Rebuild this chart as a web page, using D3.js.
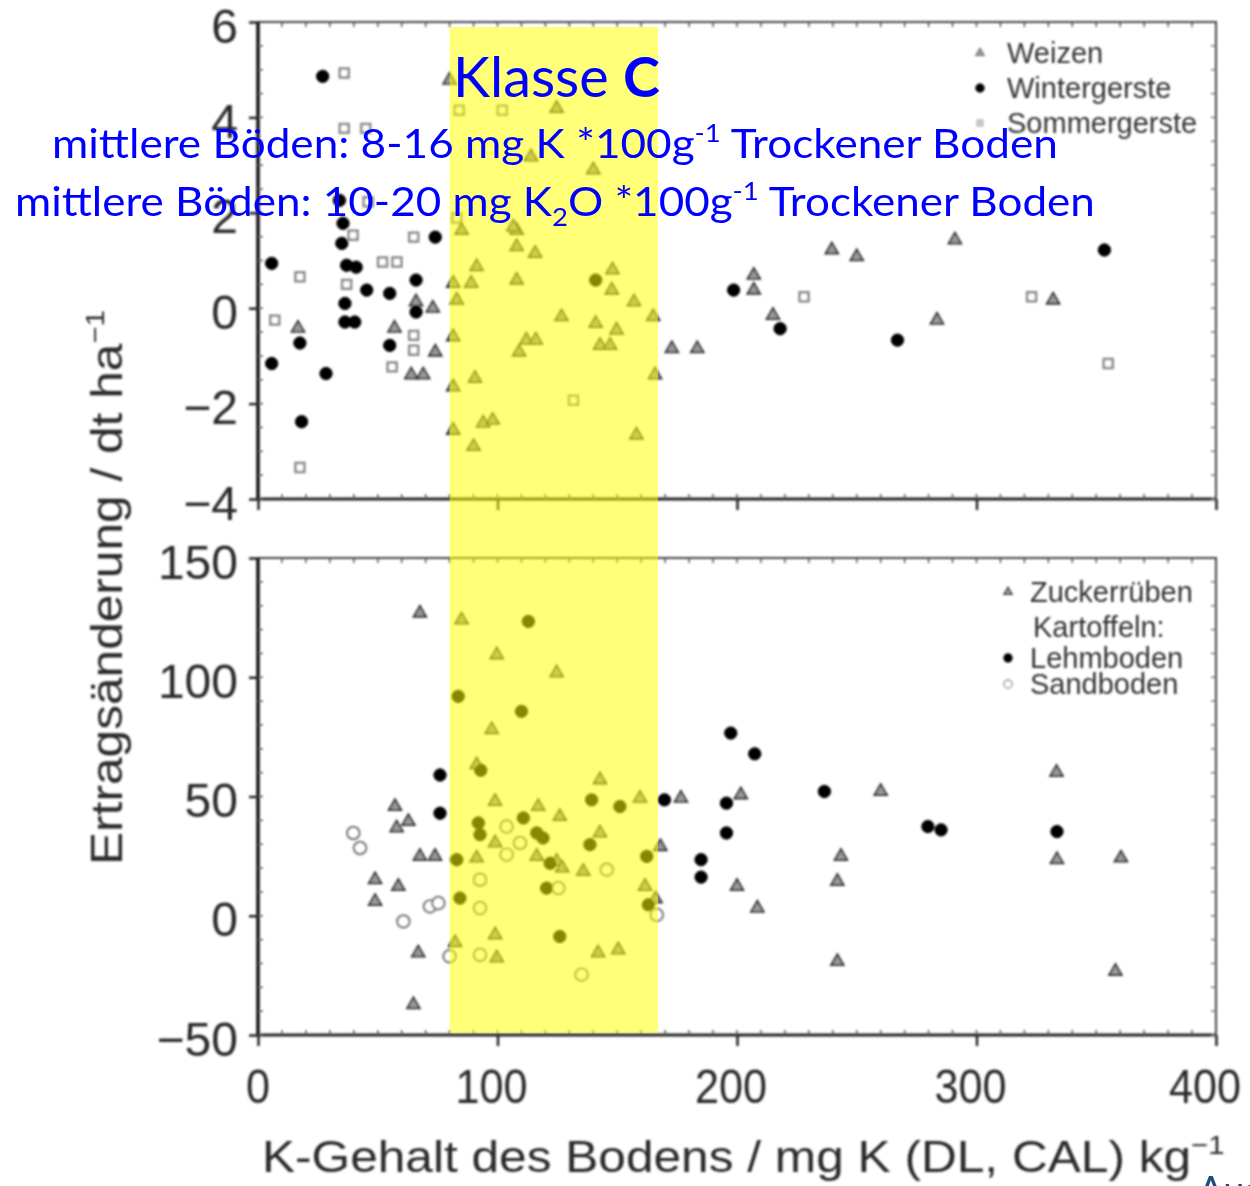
<!DOCTYPE html>
<html>
<head>
<meta charset="utf-8">
<script src="https://cdn.jsdelivr.net/npm/d3@7"></script>
<style>
  html, body { margin: 0; padding: 0; background: #fff; overflow: hidden; }
  svg { display: block; }
</style>
</head>
<body>
<svg id="chart" width="1250" height="1186"></svg>
<script>
// ---- data ----
const xTicks = [0, 100, 200, 300, 400];
const topTicks = [-4, -2, 0, 2, 4, 6];
const botTicks = [-50, 0, 50, 100, 150];
const bandRange = [80, 167];

const topLegend = ["Weizen", "Wintergerste", "Sommergerste"];
const botLegend = ["Zuckerrüben", "Kartoffeln:", "Lehmboden", "Sandboden"];

// upper panel: [K-Gehalt, Ertragsänderung dt/ha]
const weizen = [
  [16.7, -0.42], [57, -0.42], [64, -1.4], [69, -1.4], [73, 0], [66, 0.13], [74, -0.92],
  [81.5, 0.52], [83, 0.17], [81.5, -0.6], [81.5, -1.65], [81.5, -2.56], [89, 0.52], [91.3, 0.87],
  [90.6, -1.47], [90, -2.9], [94, -2.41], [98, -2.35], [108, 1.29], [115.7, 1.15], [108, 0.59],
  [112, -0.67], [109, -0.92], [116, -0.67], [126.7, -0.18], [148, 0.8], [147.7, 0.38],
  [141, -0.32], [149.7, -0.46], [142.8, -0.78], [147, -0.78], [157, 0.13], [165, -0.18],
  [165.8, -1.4], [158, -2.66], [108, 1.63], [85, 1.63], [80, 4.78], [124.7, 4.19], [114, 3.17],
  [140, 2.9], [106.6, 1.7], [172.8, -0.85], [183.4, -0.85], [207, 0.69], [207, 0.38],
  [215, -0.15], [239.6, 1.22], [250, 1.08], [291, 1.43], [283.5, -0.25], [332, 0.17]
];
const wintergerste = [
  [27, 4.86], [5.7, 0.94], [17.5, -0.73], [5.7, -1.16], [28.4, -1.37], [18.2, -2.38], [35, 1.36],
  [34, 2.26], [35.5, 1.78], [37, 0.9], [41, 0.86], [45.4, 0.38], [36.3, 0.1], [36.3, -0.29],
  [40.4, -0.29], [55, 0.31], [66, 0.59], [66, -0.08], [74, 1.49], [55, -0.78], [141, 0.59],
  [198.6, 0.38], [218, -0.43], [267, -0.67], [353.4, 1.22]
];
const sommergerste = [
  [36, 4.93], [17.5, 0.66], [7, -0.25], [17.5, -3.34], [39.7, 1.53], [36, 3.77], [45, 3.77],
  [46, 2.23], [37, 0.5], [52, 0.97], [58, 0.97], [65, 1.49], [65, -0.57], [65, -0.88], [56, -1.23],
  [84, 4.15], [102, 4.15], [83, 1.89], [131.7, -1.93], [228, 0.24], [323, 0.24], [355, -1.16]
];

// lower panel
const zuckerrueben = [
  [67.6, 126.9], [85, 124], [99.7, 109.4], [124.7, 101.8], [97.6, 78], [91.3, 63.3], [142.8, 57],
  [57.2, 45.8], [57.9, 36.8], [62.8, 39.5], [67.6, 24.9], [73.9, 24.9], [48.9, 15.1], [58.6, 12.3],
  [48.9, 6], [66.9, -15.6], [64.9, -37.3], [82.3, -11.3], [91.3, 24.2], [99, 47.9], [99, 30.5],
  [117, 45.8], [126, 41.6], [116.4, 24.9], [124.7, 22.8], [127, 20], [135.8, 18.6], [142.8, 34.7],
  [159.5, 49.3], [161.6, 12.3], [99, -8], [99.7, -17.7], [142, -15.6], [150.4, -14.3], [168, 29],
  [166, 7], [176.6, 49.3], [201.6, 50.7], [260, 52.1], [333.4, 60.1], [200, 12.3], [208.5, 3.2],
  [243.4, 24.9], [241.9, 14.4], [333.6, 23.5], [360.3, 24.2], [241.9, -19.2], [358, -23.3]
];
const lehmboden = [
  [112.9, 123.4], [83.6, 92], [110, 85.7], [93, 61], [76, 59], [76, 43], [83, 23.5], [92, 38.9],
  [92.7, 34], [110.8, 41], [116.4, 34.7], [119, 32.6], [122, 22], [120.5, 11.6], [139.3, 48.6],
  [151.1, 45.8], [138.6, 29.8], [162.3, 24.9], [163, 4.6], [84.3, 7.4], [126, -8.7], [169.7, 48.6],
  [197.4, 76.6], [207.4, 67.9], [236.5, 52.1], [195.6, 47.2], [195.6, 34.7], [279.7, 37.4],
  [285.2, 36], [333.6, 35.3], [185, 23.5], [185, 16.2]
];
const sandboden = [
  [39.8, 34.7], [42.6, 28.4], [71.8, 3.9], [75.3, 5.3], [60.7, -2.4], [103.8, 37.4], [103.8, 25.6],
  [109.4, 30.5], [125.4, 11.6], [145.6, 19.3], [166.5, 0.4], [92.7, 15.1], [92.7, 3.2],
  [92.7, -16.4], [80, -17], [135.1, -24.7]
];

// ---- layout ----
const svg = d3.select("#chart");
const left = 258, right = 1216;
const x = d3.scaleLinear().domain([0, 400]).range([left, right]);
const yTop = d3.scaleLinear().domain([-4, 6]).range([499, 22]);
const yBot = d3.scaleLinear().domain([-50, 150]).range([1035, 558]);

svg.append("defs").append("filter").attr("id", "blur")
  .attr("x", -0.05).attr("y", -0.05).attr("width", 1.1).attr("height", 1.1)
  .append("feGaussianBlur").attr("stdDeviation", 1.1);

const base = svg.append("g").attr("filter", "url(#blur)");
const labelFont = "'Liberation Sans', Arial, sans-serif";

// scale text horizontally so it spans a given width from its left edge
function fitWidth(t, w) {
  const b = t.node().getBBox();
  const s = w / b.width;
  t.attr("transform", `translate(${b.x},0) scale(${s},1) translate(${-b.x},0)`);
}

function panel(y, yTicks, yMinor) {
  const g = base.append("g");
  const [y0, y1] = y.range();
  // frame
  g.append("rect").attr("x", left).attr("y", y1).attr("width", right - left).attr("height", y0 - y1)
    .attr("fill", "none").attr("stroke", "#444").attr("stroke-width", 2);
  g.append("line").attr("x1", left).attr("x2", left).attr("y1", y1).attr("y2", y0)
    .attr("stroke", "#111").attr("stroke-width", 3.5);
  g.append("line").attr("x1", left).attr("x2", right).attr("y1", y0).attr("y2", y0)
    .attr("stroke", "#222").attr("stroke-width", 3);

  // major ticks via d3 axes
  const ax = g.append("g").attr("transform", `translate(0,${y0})`)
    .call(d3.axisBottom(x).tickValues(xTicks).tickSize(11).tickSizeOuter(0).tickFormat(""));
  const ay = g.append("g").attr("transform", `translate(${left},0)`)
    .call(d3.axisLeft(y).tickValues(yTicks).tickSize(9).tickSizeOuter(0).tickFormat(""));
  [ax, ay].forEach(a => {
    a.select(".domain").remove();
    a.selectAll("line").attr("stroke", "#222").attr("stroke-width", 2.5);
  });

  // minor ticks inside the frame
  const mx = d3.range(10, 400, 10);
  g.selectAll(null).data(mx).join("line")
    .attr("x1", d => x(d)).attr("x2", d => x(d))
    .attr("y1", y0).attr("y2", y0 - 5).attr("stroke", "#555").attr("stroke-width", 1.5);
  g.selectAll(null).data(mx).join("line")
    .attr("x1", d => x(d)).attr("x2", d => x(d))
    .attr("y1", y1).attr("y2", y1 + 5).attr("stroke", "#555").attr("stroke-width", 1.5);
  g.selectAll(null).data(yMinor).join("line")
    .attr("x1", left).attr("x2", left + 5)
    .attr("y1", d => y(d)).attr("y2", d => y(d)).attr("stroke", "#555").attr("stroke-width", 1.5);
  g.selectAll(null).data(yMinor).join("line")
    .attr("x1", right).attr("x2", right - 5)
    .attr("y1", d => y(d)).attr("y2", d => y(d)).attr("stroke", "#777").attr("stroke-width", 1.5);

  // y tick labels
  g.selectAll(null).data(yTicks).join("text")
    .attr("x", 238).attr("y", d => y(d) + 4)
    .attr("text-anchor", "end").attr("dominant-baseline", "central")
    .attr("font-family", labelFont).attr("font-size", 48).attr("fill", "#2a2a2a")
    .text(d => d < 0 ? "\u2212" + Math.abs(d) : d);
  return g;
}

panel(yTop, topTicks, d3.range(-4, 6, 0.5));
panel(yBot, botTicks, d3.range(-50, 150, 10));

// x tick labels (slightly condensed, sitting a little left of their ticks as in the scan)
base.selectAll(null).data(xTicks).join("text")
  .attr("transform", d => `translate(${x(d) - (d > 0 ? 6 : 0) - (d === 400 ? 5 : 0)},1103) scale(0.9,1)`)
  .attr("text-anchor", "middle").attr("font-family", labelFont)
  .attr("font-size", 48).attr("fill", "#2a2a2a").text(d => d);

// axis titles
const xt = base.append("text").attr("x", 262).attr("y", 1172)
  .attr("font-family", labelFont).attr("font-size", 44).attr("fill", "#2a2a2a");
xt.append("tspan").text("K-Gehalt des Bodens / mg K (DL, CAL) kg");
xt.append("tspan").attr("dy", -18).attr("font-size", 26).text("\u22121");
fitWidth(xt, 963);

const ytg = base.append("g").attr("transform", "translate(122,865) rotate(-90)");
const yt = ytg.append("text").attr("x", 0).attr("y", 0)
  .attr("font-family", labelFont).attr("font-size", 44).attr("fill", "#2a2a2a");
yt.append("tspan").text("Ertragsänderung / dt ha");
yt.append("tspan").attr("dy", -18).attr("font-size", 26).text("\u22121");
fitWidth(yt, 555);

// symbols
const tri = d3.symbol(d3.symbolTriangle, 70);
const circ = d3.symbol(d3.symbolCircle, 120);
const sq = d3.symbol(d3.symbolSquare, 80);

function drawPoints(data, y, sym, fill, stroke, sw) {
  base.append("g").selectAll("path").data(data).join("path")
    .attr("transform", d => `translate(${x(d[0])},${y(d[1])})`)
    .attr("d", sym).attr("fill", fill).attr("stroke", stroke).attr("stroke-width", sw);
}
drawPoints(sommergerste, yTop, sq, "#fff", "#888", 2.5);
drawPoints(weizen, yTop, tri, "#999", "#333", 1.8);
drawPoints(wintergerste, yTop, circ, "#000", "#000", 1);
drawPoints(sandboden, yBot, circ, "#fff", "#777", 2.2);
drawPoints(zuckerrueben, yBot, tri, "#999", "#333", 1.8);
drawPoints(lehmboden, yBot, circ, "#000", "#000", 1);

// legends
const legFont = 29;
const topLegSyms = [[tri, "#999", "#333"], [circ, "#000", "#000"], [sq, "#ccc", "#999"]];
topLegend.forEach((name, i) => {
  const cy = 53 + i * 35;
  base.append("path").attr("transform", `translate(980,${cy}) scale(0.7)`)
    .attr("d", topLegSyms[i][0]).attr("fill", topLegSyms[i][1]).attr("stroke", topLegSyms[i][2]);
  base.append("text").attr("x", 1007).attr("y", cy).attr("dominant-baseline", "central")
    .attr("font-family", labelFont).attr("font-size", legFont).attr("fill", "#333").text(name);
});
const botLegY = [592, 627, 658, 684];
const botLegSyms = [[tri, "#999", "#333"], null, [circ, "#000", "#000"], [circ, "#fff", "#888"]];
botLegend.forEach((name, i) => {
  const cy = botLegY[i];
  if (botLegSyms[i]) {
    base.append("path").attr("transform", `translate(1008,${cy}) scale(0.65)`)
      .attr("d", botLegSyms[i][0]).attr("fill", botLegSyms[i][1]).attr("stroke", botLegSyms[i][2])
      .attr("stroke-width", 2);
  }
  base.append("text").attr("x", i === 1 ? 1033 : 1030).attr("y", cy).attr("dominant-baseline", "central")
    .attr("font-family", labelFont).attr("font-size", legFont).attr("fill", "#333").text(name);
});

// yellow band (Klasse C)
svg.append("rect")
  .attr("x", x(bandRange[0])).attr("width", x(bandRange[1]) - x(bandRange[0]))
  .attr("y", 27).attr("height", 1033 - 27)
  .attr("fill", "#ffff00").attr("opacity", 0.53);

// blue annotation
const blueFont = "Lato, 'Open Sans', sans-serif";
const t1 = svg.append("text").attr("x", 453).attr("y", 97)
  .attr("font-family", blueFont).attr("font-size", 56).attr("fill", "#0000ff");
t1.append("tspan").text("Klasse ");
t1.append("tspan").attr("font-weight", "bold").text("C");
fitWidth(t1, 207);

const t2 = svg.append("text").attr("x", 52).attr("y", 158)
  .attr("font-family", blueFont).attr("font-size", 40).attr("fill", "#0000ff");
t2.append("tspan").text("mittlere Böden: 8-16 mg K *100g");
t2.append("tspan").attr("dy", -16).attr("font-size", 25).text("-1");
t2.append("tspan").attr("dy", 16).text(" Trockener Boden");
fitWidth(t2, 1006);

const t3 = svg.append("text").attr("x", 15).attr("y", 216)
  .attr("font-family", blueFont).attr("font-size", 40).attr("fill", "#0000ff");
t3.append("tspan").text("mittlere Böden: 10-20 mg K");
t3.append("tspan").attr("dy", 10).attr("font-size", 25).text("2");
t3.append("tspan").attr("dy", -10).text("O *100g");
t3.append("tspan").attr("dy", -16).attr("font-size", 25).text("-1");
t3.append("tspan").attr("dy", 16).text(" Trockener Boden");
fitWidth(t3, 1080);

// cut-off source note at the bottom right
svg.append("text").attr("x", 1198).attr("y", 1204)
  .attr("font-family", blueFont).attr("font-size", 38).attr("fill", "#1f4e79").text("Aus");
</script>
</body>
</html>
